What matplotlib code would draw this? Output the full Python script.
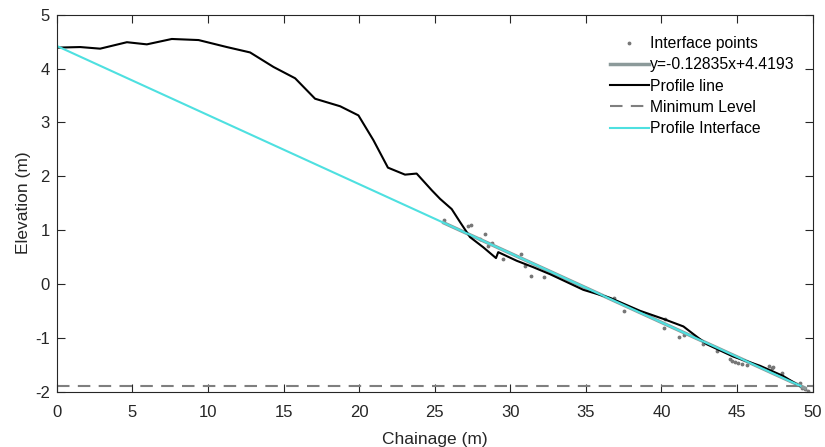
import numpy as np
import matplotlib
matplotlib.use('Agg')
import matplotlib.pyplot as plt

plt.rcParams['font.family'] = ['Liberation Sans', 'DejaVu Sans']
plt.rcParams['axes.unicode_minus'] = False

# profile line (chainage, elevation)
profile_x = [0.1, 1.54, 2.86, 4.63, 5.95, 7.6, 9.37, 11.24, 12.78, 14.33, 15.76,
             17.08, 18.74, 19.95, 20.94, 21.9, 23.03, 23.8, 24.8, 25.35, 26.12,
             26.67, 27.33, 28.21, 29.05, 29.2, 30.42, 31.52, 32.63, 34.83, 36.6,
             38.58, 40.12, 41.45, 42.1, 42.99, 44.75, 46.51, 48.05, 49.16]
profile_y = [4.39, 4.40, 4.37, 4.49, 4.45, 4.55, 4.53, 4.40, 4.30, 4.03, 3.82,
             3.44, 3.30, 3.13, 2.67, 2.16, 2.03, 2.05, 1.74, 1.58, 1.39,
             1.15, 0.87, 0.68, 0.48, 0.59, 0.43, 0.31, 0.18, -0.11, -0.26,
             -0.50, -0.65, -0.79, -0.93, -1.12, -1.35, -1.52, -1.71, -1.90]

# interface points
pts_x = [25.64, 27.22, 27.4, 28.33, 28.0, 28.81, 28.55, 29.54, 30.71, 30.97,
         31.35, 32.23, 36.87, 37.52, 40.23, 40.19, 41.16, 41.51, 42.72, 43.65,
         44.53, 44.69, 44.86, 45.08, 45.34, 45.67, 47.13, 47.28, 47.39, 47.99,
         49.16, 49.27, 49.49, 49.71]
pts_y = [1.19, 1.07, 1.09, 0.92, 0.84, 0.76, 0.71, 0.46, 0.56, 0.34,
         0.15, 0.12, -0.26, -0.51, -0.65, -0.82, -0.98, -0.95, -1.12, -1.24,
         -1.39, -1.43, -1.45, -1.47, -1.49, -1.51, -1.52, -1.57, -1.54, -1.65,
         -1.84, -1.93, -1.96, -1.99]

slope = -0.12835
intercept = 4.4193
min_level = -1.9
fit_range = [25.6, 49.5]
interface_range = [0.0, 49.2]

fig = plt.figure(figsize=(8.25, 4.47), dpi=100)
ax = fig.add_axes([0.069, 0.124, 0.916, 0.843])

fx = np.array(fit_range)
ix = np.array(interface_range)

ax.plot(pts_x, pts_y, '.', color='#777777', markersize=3.5, label='Interface points')
ax.plot(fx, slope * fx + intercept, color='#8c9a9a', lw=2.5,
        label='y=-0.12835x+4.4193')
ax.plot(profile_x, profile_y, color='black', lw=1.5, label='Profile line')
ax.plot([0, 50], [min_level, min_level], '--', color='#7f7f7f', lw=1.5,
        dashes=(6, 4), label='Minimum Level')
ax.plot(ix, slope * ix + intercept, color='#4ee0e0', lw=1.5, label='Profile Interface')

ax.set_xlim(0, 50)
ax.set_ylim(-2, 5)
ax.set_xticks(range(0, 51, 5))
ax.set_yticks(range(-2, 6))
ax.tick_params(direction='in', top=True, right=True, length=6, width=0.8,
               colors='#262626', labelsize=12, labelcolor='#262626')
ax.tick_params(axis='x', pad=10)
ax.tick_params(axis='y', pad=5)
for s in ax.spines.values():
    s.set_color('#262626')
    s.set_linewidth(0.8)

ax.set_xlabel('Chainage (m)', fontsize=12.5, color='#262626', labelpad=8)
ax.set_ylabel('Elevation (m)', fontsize=12.5, color='#262626', labelpad=3)

ax.legend(loc='upper right', bbox_to_anchor=(0.985, 0.96), frameon=False,
          fontsize=11.3, handlelength=2.5, handletextpad=0.1, labelspacing=0.4,
          borderaxespad=0)

fig.savefig('out.png', dpi=100)
